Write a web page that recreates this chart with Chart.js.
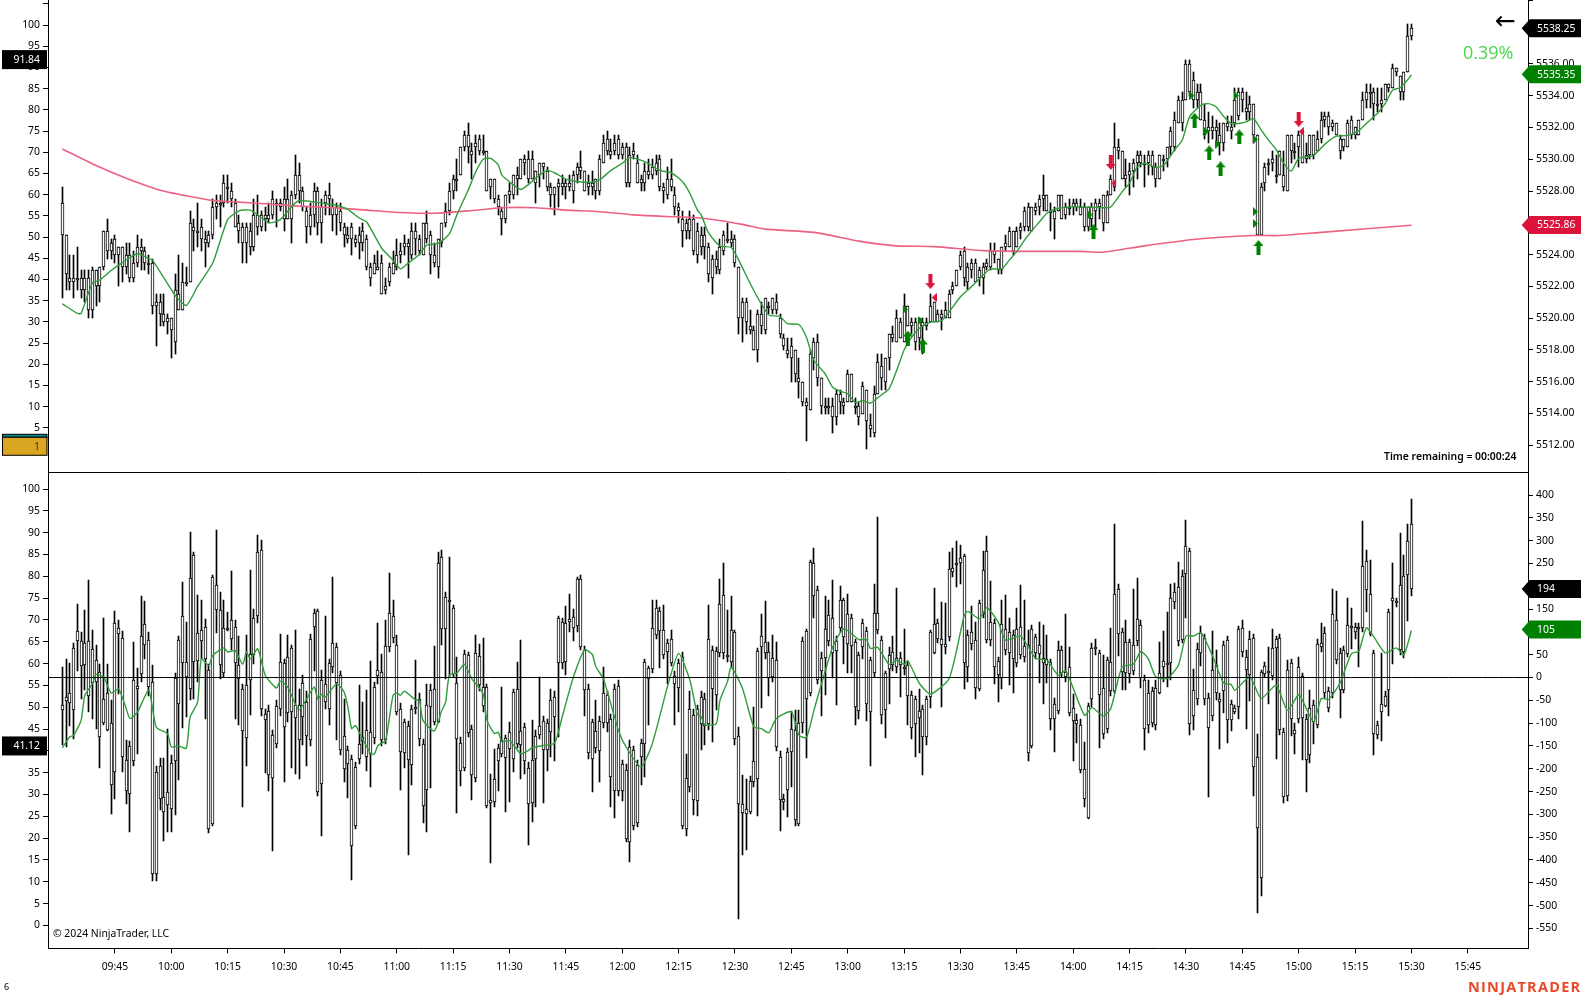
<!DOCTYPE html>
<html>
<head>
<meta charset="utf-8">
<title>NinjaTrader chart</title>
<script src="https://cdn.jsdelivr.net/npm/chart.js@4"></script>
<style>
  html, body { margin: 0; padding: 0; background: #fff; overflow: hidden; }
  #wrap { position: relative; width: 1581px; height: 997px; }
  canvas { position: absolute; left: 0; }
  .label { position: absolute; white-space: nowrap; color: #000; font-family: "Noto Sans", sans-serif; font-size: 10.4px; line-height: 14px; }
</style>
</head>
<body>
<div id="wrap">
  <canvas id="priceChart" width="1581" height="473" style="top:0"></canvas>
  <canvas id="deltaChart" width="1581" height="525" style="top:472px"></canvas>
  <div class="label" style="left:1495px;top:4px;font-family:'DejaVu Sans';font-size:25px;line-height:34px">←</div>
  <div class="label" style="left:1463px;top:40px;font-family:'Open Sans';font-size:18px;line-height:24px;color:#4cd44c">0.39%</div>
  <div class="label" style="left:1384px;top:449px;font-weight:600">Time remaining = 00:00:24</div>
  <div class="label" style="left:53px;top:926px">© 2024 NinjaTrader, LLC</div>
  <div class="label" style="left:4px;top:980px;font-size:9px">6</div>
  <div class="label" style="left:1468px;top:977px;font-family:'Open Sans';font-weight:700;font-size:14.5px;line-height:20px;letter-spacing:1.25px;color:#ea4a2a">NINJATRADER</div>
</div>
<script>
// candles are [open, high, low, close], one row per minute
const priceBars0930 = [
[5527.25,5528.25,5521.25,5525.25],[5525.25,5525.25,5521.75,5522.75],[5522.5,5524,5521.75,5522.25],[5522.25,5524,5521.25,5522.5],[5522.5,5524.5,5521.75,5522.5],
[5522.5,5523,5521.25,5521.75],[5521.75,5523,5521,5522.5],[5522.5,5523,5520,5520.5],[5520.5,5523.25,5520,5523],[5523,5523,5520.75,5522],
[5522,5523.25,5521,5523.25],[5523.25,5525.5,5523,5525.5],[5525.5,5526.25,5523.75,5524.25],[5524.25,5525,5523.75,5524.75],[5525,5525.25,5523.5,5524],
[5524,5524.5,5522,5524.5],[5524.5,5524.5,5522.25,5523.25],[5523.25,5524.75,5522.75,5524],[5524,5524.75,5522.25,5522.5],[5522.5,5524.25,5522.25,5523.5],
[5523.5,5525.25,5523.25,5524.5],[5524.5,5525,5523,5524.25],[5524.25,5524.5,5523,5523.5],[5523.5,5524,5522.75,5523.5],[5523.5,5523.75,5520.25,5520.75],
[5520.75,5521.5,5518.25,5521],[5521,5521.5,5519.5,5520.25],[5520.25,5521.5,5519.5,5519.75],[5519.75,5520.25,5519,5520]];
const priceBars1000 = [
[5520,5520,5517.5,5519.25],[5518.5,5522.75,5517.75,5521.75],[5521.5,5524,5520.5,5520.5],[5520.5,5523.5,5520.5,5522.25],[5522.25,5523.25,5522,5522.25],
[5522.25,5526.75,5522.25,5526],[5525.75,5526.25,5524.25,5525.5],[5525.5,5527.25,5524.5,5525.5],[5525.75,5526.25,5524.25,5525],[5525,5525.5,5523.25,5524.75],
[5524.75,5525.5,5524.5,5525.25],[5525.25,5527.5,5525,5527],[5527,5527.75,5526.25,5527.25],[5527.25,5527.75,5525.75,5527.25],[5527.25,5529,5527,5528.5],
[5528.25,5529,5527.25,5528.25],[5528,5528.5,5527,5527.5],[5527.25,5527.5,5525.75,5525.75],[5526,5526.5,5524.75,5525.5],[5525.75,5526,5523.5,5524.75],
[5524.75,5526,5523.5,5525.75],[5525.5,5526,5524,5524.5],[5524.5,5527.5,5524.25,5526.5],[5526.5,5527.75,5525.25,5525.75],[5525.75,5526.75,5525.5,5526.5],
[5526.5,5527,5525.5,5526.25],[5526.25,5527.25,5526,5526.5],[5526.5,5528,5526.25,5527.5],[5527.25,5527.5,5525.75,5527.25],[5527.25,5527.5,5526.75,5527]];
const priceBars1030 = [
[5526.25,5528.25,5525.5,5527.5],[5527.5,5528.75,5526.25,5526.25],[5526.25,5528,5524.75,5527.75],[5527.75,5530.25,5527.5,5529],[5529,5529.75,5527.25,5528],
[5528,5528.25,5526.75,5527],[5526.75,5527,5524.75,5525.75],[5525.75,5527.25,5525.25,5526.5],[5526.5,5528.5,5525.75,5528],[5528,5528.25,5525.25,5526],
[5526,5527.5,5524.75,5527],[5527.25,5528,5526.5,5527.75],[5527.75,5528.5,5526.5,5527.5],[5527,5527.5,5525.5,5526.5],[5526.5,5527.25,5525.25,5527],
[5526.75,5527.25,5525.5,5526],[5525.75,5526,5524.5,5525.25],[5525.25,5525.75,5524.75,5525],[5525.75,5526,5524,5525],[5525,5525.25,5524.5,5524.75],
[5524.75,5525.75,5523.75,5525.25],[5525.5,5526,5524.25,5524.75],[5525,5525.25,5523,5523.25],[5523.25,5523.5,5522,5522.5],[5522.75,5524,5522.75,5523.5],
[5523.25,5524.25,5523,5523],[5523.5,5524,5521.5,5521.5],[5521.75,5522.5,5521.5,5522],[5522.25,5523.5,5522,5523.25],[5523.5,5524.25,5522.75,5522.75]];
const priceBars1100 = [
[5523.25,5525,5523,5524],[5524,5524.75,5523.5,5524.25],[5524.75,5525.25,5524,5524.5],[5524.5,5525,5522.5,5524.75],[5524,5526,5523.75,5525.5],
[5525.5,5526,5524,5525],[5525,5525.25,5524,5524.25],[5524,5526,5524,5526],[5526,5526.75,5524.75,5525],[5525.25,5525.5,5522.75,5524],
[5524,5524.75,5523.25,5523.5],[5523.25,5525,5522.5,5525],[5524.75,5526,5524.5,5526],[5526,5527.25,5525.75,5526.75],[5526.75,5528.5,5526.5,5528],
[5528,5529,5527.5,5528.75],[5528.75,5530,5528,5528.75],[5529,5530.75,5529,5530.75],[5530.75,5531.75,5530.5,5531.5],[5531.5,5532.25,5529.75,5530.75],
[5530.5,5531,5528.75,5530.25],[5530.75,5531.5,5529.75,5531],[5530.5,5531.5,5530.25,5531.25],[5530.5,5531.5,5530.25,5530.5],[5530.5,5530.5,5528,5528],
[5528.25,5528.75,5527.5,5528.75],[5528.75,5528.75,5527.25,5527.5],[5527.5,5527.75,5526.5,5527],[5526.75,5527,5525.25,5526.25],[5526.25,5527.75,5526,5527.75]];
const priceBars1130 = [
[5527.75,5528.5,5527.25,5528],[5527.75,5529,5527.5,5529],[5529,5529.5,5527.75,5528.75],[5528.75,5530,5528.75,5530],[5530,5530.25,5529,5529.75],
[5528.75,5530.5,5528.5,5530],[5530,5530.5,5528.75,5528.75],[5528.5,5529.25,5527.25,5529.25],[5529,5529.75,5528.25,5529.75],[5529.75,5529.75,5528.75,5529.5],
[5529.25,5529.5,5528,5528.25],[5528.25,5528.5,5527,5527.75],[5527.75,5528.25,5526.5,5528.25],[5528.25,5528.75,5527,5528.5],[5528.5,5529,5527.75,5528.25],
[5528.25,5528.75,5527.5,5528.5],[5528.5,5529,5528,5528.25],[5528,5529.25,5527.25,5529],[5529,5529.75,5528.5,5529.5],[5529.5,5530.5,5528.75,5529.25],
[5529.25,5529.25,5528,5528],[5528.25,5529,5527.75,5528.5],[5528.5,5529.25,5527.75,5528.25],[5528.75,5528.75,5527.5,5528],[5528,5530.25,5527.75,5530],
[5529.75,5531.5,5529.75,5531],[5530.5,5531.75,5530.25,5531.25],[5530.5,5531.25,5530,5530.25],[5530.5,5531.5,5530.25,5531],[5530.25,5531.5,5530,5531.25]];
const priceBars1200 = [
[5530.25,5531,5530,5530.75],[5530.75,5531,5528.25,5528.5],[5528.5,5530.75,5528.25,5530.25],[5530.5,5531,5530,5530.25],[5529.75,5530.25,5528.5,5528.5],
[5528.5,5529,5528,5528.75],[5528.5,5529.75,5528,5529.25],[5529.25,5530,5528.75,5529],[5529,5530,5528.75,5529.5],[5529.75,5530.25,5529,5529.25],
[5528.25,5530.25,5528,5530],[5528.25,5528.5,5527.25,5528],[5528.75,5529.5,5527.5,5527.75],[5528.75,5530,5528,5528.25],[5527.75,5528.25,5526.5,5527],
[5527,5527.25,5526,5526.75],[5526.25,5526.75,5524.5,5525.5],[5526,5526.25,5525,5525.5],[5526.25,5526.75,5525,5525.5],[5526.25,5526.5,5524,5524.25],
[5525.5,5526,5523.5,5524],[5525.25,5525.75,5524,5524.5],[5524.5,5525.75,5523.75,5525.25],[5524.5,5524.75,5522.25,5522.75],[5522.5,5524,5521.5,5523.75],
[5523.75,5524.25,5522.75,5523.25],[5523,5525,5522.75,5524.5],[5524.25,5525.5,5524,5525.25],[5525,5526,5524.75,5525],[5525,5525.5,5524.5,5524.75]];
const priceBars1230 = [
[5525,5525.25,5523.25,5523.5],[5523.25,5523.25,5519,5520],[5520,5521.25,5518.5,5521],[5521,5521.25,5519,5519.75],[5519.5,5520.5,5519,5519.25],
[5519.25,5519.5,5518,5518],[5518,5520.5,5517.25,5520.25],[5520.25,5521,5519,5519.5],[5519.25,5521.25,5519,5521.25],[5520.75,5521,5520.25,5520.75],
[5521.25,5521.25,5520.25,5520.5],[5520.5,5521.5,5520.25,5521],[5520,5520.25,5518.75,5519],[5518.75,5519,5518,5518.25],[5518,5518.75,5517.5,5517.75],
[5517.5,5518.75,5516,5518.25],[5518,5518,5516,5516.5],[5516.25,5517.5,5515,5516],[5516,5516,5514.5,5514.75],[5514.75,5515,5512.25,5514.5],
[5514.25,5518,5514.25,5517.75],[5517.5,5518.75,5516.75,5518.5],[5518.5,5519,5515.75,5516.25],[5516.25,5516.25,5514,5514.5],[5514.5,5515,5514,5514.5],
[5514.5,5515,5514,5514.5],[5514.5,5515,5512.75,5513.75],[5513.75,5515.5,5513.25,5515.25],[5515.25,5515.5,5514,5514.75],[5514.75,5515,5514,5514.5]];
const priceBars1300 = [
[5514.75,5516.75,5514.75,5516.5],[5516.5,5516.5,5514.75,5514.75],[5514.5,5515,5514,5514.5],[5514.5,5514.75,5513.25,5513.75],[5514,5516,5514,5515.75],
[5515.5,5515.5,5511.75,5513.5],[5513.25,5514,5512.5,5513],[5512.75,5515.75,5512.5,5515.25],[5515.25,5517.75,5515.25,5517.25],[5517,5517.75,5515.5,5516.25],
[5516,5517.5,5515.5,5517.5],[5517.5,5519,5516.75,5519],[5519,5519.5,5518.5,5518.75],[5518.5,5520.5,5518.5,5520],[5519.75,5520,5518.75,5518.75],
[5518.5,5521.5,5518.5,5520.75],[5520.75,5520.75,5519.5,5519.5],[5519.5,5520,5519,5519.75],[5519.75,5520,5518,5518.5],[5518.75,5520,5518,5520],
[5519.75,5520,5517.75,5519.5],[5519.5,5520,5519.25,5519.75],[5519.75,5521.5,5519.75,5520.75],[5521,5521,5519.75,5519.75],[5519.75,5520.5,5519.75,5520.25],
[5520.25,5520.5,5519.25,5520],[5520,5521,5520,5520.5],[5520,5521.75,5520,5521.5],[5521.75,5522.25,5521.5,5522],[5522,5523,5522,5523]];
const priceBars1330 = [
[5523.25,5524.25,5523,5524],[5522.5,5524.5,5522,5524.25],[5522.25,5523.5,5521.75,5523.25],[5523,5523.75,5522.5,5523.5],[5523.5,5523.75,5522.25,5522.25],
[5522.5,5523.25,5522,5523],[5522.5,5523.5,5521.5,5523.25],[5523.25,5523.75,5523,5523.5],[5523.25,5524.75,5523,5524.25],[5524.25,5524.75,5523.5,5524],
[5523,5523.75,5522.75,5523.75],[5523,5524.5,5522.75,5524.5],[5524.5,5525.25,5524.25,5524.75],[5524.5,5525.75,5524.5,5525.5],[5525.5,5525.5,5524,5524.25],
[5524.5,5525.75,5524.5,5525.5],[5525.5,5526,5525,5525.75],[5525.75,5527,5525.5,5526.75],[5525.75,5527.25,5525.5,5527],[5527,5527,5525.5,5525.5],
[5526.75,5527.25,5526.5,5527],[5527,5527.75,5526.5,5527.5],[5527.5,5529,5526.75,5527.75],[5527.75,5527.75,5526.75,5526.75],[5526.75,5527.25,5525.5,5526.75],
[5526.25,5527,5525,5526.75],[5526.75,5527.75,5526.75,5527.75],[5526.25,5527.75,5526.25,5527.75],[5527,5527.25,5526.25,5526.5],[5527,5527.5,5526.5,5527]];
const priceBars1400 = [
[5527,5527.5,5526.5,5527.25],[5527,5527.5,5526.75,5527.25],[5527,5527.5,5526.5,5526.5],[5527,5527.25,5525.5,5525.75],[5525.75,5527,5525.5,5527],
[5527,5527.25,5525.75,5526.25],[5526.75,5527.5,5525.75,5527.25],[5527,5527.5,5526.25,5527.25],[5526,5527.75,5525.5,5527.75],[5527.75,5528,5526,5526],
[5527.75,5529,5527.75,5528.75],[5528.25,5532.25,5528,5530.75],[5530.5,5531.25,5530,5530.75],[5530.5,5530.5,5528.75,5528.75],[5529,5530,5528.25,5528.75],
[5529,5529.75,5527.75,5529.25],[5529.25,5530,5528.25,5529.75],[5529.75,5530.5,5528.75,5530.25],[5530.25,5530.5,5529.5,5529.75],[5529.75,5530.25,5528.25,5529.75],
[5529.75,5530.5,5529,5530.25],[5530.25,5530.5,5529,5529.5],[5529.5,5529.75,5528.25,5528.75],[5528.75,5530.25,5528.75,5530.25],[5530,5530.25,5529.25,5530],
[5530,5530.75,5529.5,5530.75],[5530.75,5532,5530.25,5531.75],[5530.75,5533,5530.5,5532.5],[5532.25,5534,5532.25,5533.75],[5533.75,5534.25,5531.75,5532.25]];
const priceBars1430 = [
[5533.75,5536.25,5533.75,5536],[5536,5536.25,5534,5534.25],[5535,5535.5,5533.25,5533.75],[5533.75,5534.75,5533.25,5534.25],[5534.25,5534.75,5532.5,5532.5],
[5532.5,5533.5,5531.25,5531.5],[5531.75,5533,5531,5532],[5532,5532.75,5531.25,5531.75],[5531.75,5532.5,5531,5532],[5531.5,5532.25,5530.25,5531],
[5531,5532.25,5530.5,5532.25],[5532.25,5532.75,5531.75,5532],[5532,5532.75,5531.25,5531.75],[5532.25,5534.5,5532,5533.75],[5532.75,5534.5,5532.5,5534.25],
[5534.25,5534.5,5533,5533.75],[5533.25,5534.25,5532.5,5533],[5533,5534,5532.5,5533.5],[5533.5,5533.5,5531,5531.5],[5531.5,5531.5,5525.25,5525.25],
[5525.25,5528.5,5525.25,5528.25],[5528.5,5529.75,5528,5529.5],[5529.75,5530,5529,5529.75],[5529.75,5530.5,5529.25,5530],[5529,5530.25,5528.5,5529],
[5529,5530.5,5529,5530.5],[5529,5530.5,5528,5528.25],[5528,5531.5,5528,5531.5],[5531.5,5531.5,5529.75,5530.5],[5530.5,5531,5530,5530.5]];
const priceBars1500 = [
[5530.75,5531.75,5529.5,5531.5],[5531.75,5531.75,5529.75,5529.75],[5530,5531,5529.75,5530.25],[5530.25,5531.5,5530,5531.5],[5531.5,5531.5,5530,5530.25],
[5531.25,5531.75,5530.5,5530.5],[5531.25,5533,5531,5532.5],[5532.5,5533,5532,5532.75],[5532.75,5533,5531.5,5532],[5532,5532.5,5531.75,5532.25],
[5532.25,5532.25,5531.5,5531.5],[5531.25,5531.5,5530,5530.5],[5530.75,5531.25,5530.5,5531.25],[5530.75,5532.5,5530.75,5532.25],[5532.5,5532.75,5531.25,5531.5],
[5531.5,5532,5531.25,5532],[5531.5,5532.5,5531.5,5532.5],[5532.5,5534.25,5532.5,5533.75],[5533.75,5534.75,5533.25,5534.25],[5534.25,5534.75,5533.25,5534.25],
[5534.25,5534.5,5532.5,5533.5],[5533.5,5534.5,5533,5533.5],[5533.75,5534.5,5533,5533.5],[5533.75,5534.75,5533.75,5534.75],[5534.75,5534.75,5534.25,5534.5],
[5534.5,5536,5534.5,5535.75],[5535.75,5535.75,5535.25,5535.5],[5535.25,5535.25,5533.75,5534.25],[5534.25,5535.5,5533.75,5535.5],[5535.5,5538.5,5535.5,5537.75],
[5537.75,5538.5,5537.5,5538.25]];

const deltaBars0930 = [
[-72,24,-147,-60],[-52,41,-152,-43],[-56,32,-107,-33],[-71,75,-134,65],[80,161,14,102],[26,100,-48,80],[28,147,-28,76],[-40,213,-76,80],[-11,105,-92,63],[-9,72,-112,39],
[-130,30,-198,13],[-99,131,-105,-47],[-114,30,-117,-33],[-236,-50,-300,-99],[-207,145,-266,120],[96,125,-36,109],[-174,103,-207,87],[-249,-136,-278,-180],[-255,-139,-339,-150],[-183,78,-195,-5],
[-25,20,-168,-18],[8,178,-10,91],[72,167,40,118],[-21,100,-40,83],[-430,28,-445,-10],[-430,-195,-445,-207],[-266,-176,-290,-194],[-295,-176,-358,-263],[-279,-112,-339,-251]];
const deltaBars1000 = [
[-288,-170,-339,-187],[-183,10,-302,-1],[-58,92,-224,83],[32,210,-110,134],[1,121,-87,34],[-25,320,-50,218],[35,275,-48,269],[36,180,-10,98],[80,170,40,105],[41,129,-90,110],
[-333,30,-340,16],[-322,225,-325,221],[148,324,98,203],[28,187,-3,148],[10,169,0,109],[107,143,103,109],[85,234,60,126],[32,125,-92,110],[-3,90,-103,28],[-117,-15,-284,-25],
[-132,94,-193,-16],[-6,236,-83,52],[50,151,30,131],[134,313,120,276],[-68,302,-85,280],[-93,-70,-209,-79],[-213,-60,-249,-74],[-220,-115,-380,-127],[-145,-50,-155,-62],[-68,96,-85,34]];
const deltaBars1030 = [
[-109,40,-229,32],[-78,94,-98,46],[-76,72,-198,65],[-88,105,-212,-61],[-136,-25,-222,-61],[-87,5,-149,-12],[-128,-30,-193,-54],[-136,95,-150,85],[110,150,14,142],[-252,150,-260,145],
[-233,16,-347,-5],[-54,134,-70,-14],[-68,40,-103,32],[23,221,10,76],[-12,75,-136,66],[-158,15,-170,6],[-200,-47,-229,-128],[-189,-150,-264,-158],[-369,-170,-444,-178],[-325,-185,-333,-196],
[-178,-17,-190,-145],[-139,-53,-167,-130],[-174,-28,-205,-115],[-167,37,-240,-119],[-132,-10,-145,-20],[4,119,-15,17],[-136,52,-150,13],[-138,125,-145,70],[67,229,55,142],[87,170,75,134]];
const deltaBars1100 = [
[-76,94,-83,72],[-163,-55,-247,-68],[-165,-92,-198,-97],[-180,-95,-390,-106],[-191,-60,-236,-70],[-69,39,-79,-65],[-134,-35,-150,-47],[-282,-135,-319,-145],[-247,-14,-339,-60],[-65,-15,-242,-27],
[-97,70,-105,-26],[-97,276,-100,251],[107,280,72,264],[107,187,-3,176],[168,265,1,171],[8,160,0,152],[-134,46,-297,-11],[-206,-130,-238,-143],[-198,60,-205,52],[-122,56,-130,50],
[-214,-105,-269,-113],[-220,94,-229,54],[-16,74,-30,48],[-63,87,-75,-21],[-281,-14,-285,-21],[-275,-211,-406,-268],[-273,-156,-284,-222],[-183,-145,-249,-154],[-167,-20,-175,-138],[-176,-125,-295,-132]];
const deltaBars1130 = [
[-156,-98,-273,-120],[-178,-25,-207,-32],[-145,34,-155,-25],[-147,83,-222,-117],[-182,-100,-211,-109],[-278,-185,-368,-198],[-274,-94,-317,-180],[-178,-115,-284,-128],[-127,2,-135,-107],[-158,-85,-275,-96],
[-158,-90,-204,-99],[-119,-25,-174,-49],[-87,-30,-183,-43],[32,135,-130,130],[32,130,19,121],[34,156,5,120],[121,182,100,128],[109,150,80,132],[113,220,100,215],[67,224,60,216],
[-27,70,-85,61],[-165,-15,-179,-25],[-178,-90,-251,-97],[-154,-49,-165,-117],[-160,-85,-229,-95],[-99,23,-110,-33],[-100,-30,-120,-38],[-218,-80,-284,-90],[-249,-15,-309,-25],[-249,-6,-260,-18]];
const deltaBars1200 = [
[-249,-180,-271,-189],[-355,-190,-360,-202],[-360,-138,-404,-152],[-325,-150,-335,-158],[-318,-180,-328,-191],[-174,-135,-236,-143],[-145,40,-218,34],[-3,26,-103,21],[19,169,10,109],[94,169,85,153],
[102,155,20,146],[50,160,40,105],[56,85,-15,76],[32,105,25,85],[-14,15,-105,4],[-22,40,-76,32],[-325,57,-331,46],[-331,-167,-347,-220],[-240,-30,-250,-68],[-268,-70,-302,-82],
[-271,-60,-304,-68],[-101,-30,-158,-42],[-107,-35,-147,-48],[-101,158,-115,85],[-26,70,-141,61],[-39,67,-72,58],[54,217,45,162],[54,252,40,180],[45,147,35,50],[34,178,20,105]];
const deltaBars1230 = [
[-134,105,-147,99],[-277,-108,-530,-128],[-296,-214,-388,-278],[-300,-223,-377,-289],[-294,-215,-300,-226],[-228,-64,-240,-184],[-223,64,-303,58],[66,140,-66,91],[53,168,40,77],[-2,78,-40,57],
[2,93,-10,42],[-153,78,-160,39],[-269,-161,-336,-175],[-272,-255,-290,-267],[-247,-155,-305,-164],[-164,-73,-241,-112],[-312,-72,-326,-115],[-321,-72,-325,-99],[-99,89,-121,80],[-46,107,-177,101],
[-35,258,-40,253],[179,284,131,252],[-6,200,-15,191],[15,55,-84,43],[43,178,-39,107],[80,169,70,136],[53,213,-2,131],[58,90,-61,80],[109,200,100,171],[89,175,29,169]];
const deltaBars1300 = [
[74,184,9,140],[69,140,9,131],[-64,85,-104,77],[-73,55,-91,49],[67,128,40,120],[-59,110,-95,102],[-75,45,-194,39],[9,204,0,142],[105,352,95,142],[-82,90,-102,83],
[-72,15,-133,9],[18,67,-57,50],[27,91,15,55],[23,197,10,42],[27,55,-42,42],[18,107,5,22],[-41,35,-104,27],[-110,-30,-134,-39],[-101,-40,-174,-46],[-88,-26,-165,-74],
[-130,-60,-214,-70],[-130,-40,-148,-46],[-42,105,-66,100],[54,197,51,117],[85,128,75,120],[72,166,-64,85],[67,164,51,74],[88,275,80,237],[231,284,220,241],[247,299,199,251]];
const deltaBars1330 = [
[250,290,206,263],[31,270,-26,266],[22,105,-9,94],[74,156,60,100],[-24,122,-47,83],[-26,170,-30,164],[140,277,130,235],[83,310,75,277],[82,211,70,122],[22,128,-15,120],
[5,45,-53,36],[-2,171,-26,118],[60,180,50,107],[53,131,-17,99],[40,105,-34,94],[31,153,22,107],[50,202,40,110],[45,169,35,69],[-166,104,-182,71],[-150,115,-155,107],
[53,95,40,88],[51,122,-13,71],[32,115,-57,42],[27,93,-12,41],[-92,40,-115,34],[-92,-45,-163,-57],[-73,80,-80,60],[9,70,0,61],[1,140,-9,12],[-77,67,-85,22]];
const deltaBars1400 = [
[-96,-37,-183,-66],[-101,-80,-143,-94],[-202,-90,-210,-103],[-267,-141,-283,-200],[-307,-55,-310,-62],[-46,75,-65,65],[65,85,50,67],[-38,60,-154,54],[-123,49,-134,-24],[-113,45,-121,39],
[-30,109,-40,33],[-29,337,-35,184],[96,205,47,195],[12,109,-28,100],[10,127,-27,78],[8,85,-13,78],[14,193,5,72],[80,219,70,129],[-2,125,-23,116],[-112,5,-158,-5],
[-105,-5,-121,-35],[-100,-20,-108,-29],[-105,-5,-115,-22],[-34,78,-37,10],[22,101,-10,36],[30,144,-21,32],[32,204,-6,175],[165,208,150,187],[79,253,70,198],[82,235,75,223]];
const deltaBars1430 = [
[228,346,130,288],[-101,285,-127,278],[-84,18,-116,-27],[-46,75,-60,63],[54,112,25,98],[-46,95,-60,87],[-110,-35,-262,-44],[-84,101,-95,17],[-35,60,-50,27],[-54,-35,-156,-46],
[-29,80,-78,72],[-93,90,-143,82],[-93,-50,-118,-59],[-75,-60,-80,-66],[-65,114,-92,107],[56,127,45,109],[16,60,-113,44],[5,101,-51,85],[-197,95,-259,87],[-329,-123,-517,-175],
[-440,16,-478,12],[8,35,0,26],[10,67,-57,14],[3,107,-5,65],[65,90,-178,84],[-116,95,-125,87],[-263,-110,-275,-119],[-259,39,-270,17],[-90,40,-128,32],[-123,-100,-167,-114]];
const deltaBars1500 = [
[-90,45,-100,24],[-88,10,-181,4],[-180,-80,-252,-90],[-169,-28,-187,-66],[-97,-50,-145,-61],[-103,85,-110,74],[67,119,55,76],[-34,110,-45,98],[-66,-20,-75,-29],[-35,195,-45,140],
[38,189,30,125],[-28,65,-89,54],[-27,70,-35,61],[52,175,45,116],[112,152,63,113],[100,120,85,111],[107,120,23,111],[109,344,100,245],[191,279,144,255],[96,258,90,184],
[-123,60,-170,54],[-127,-95,-135,-103],[-75,54,-139,-59],[-62,-30,-65,-40],[-28,150,-85,144],[167,252,30,174],[165,175,155,168],[60,317,50,203],[56,268,43,223],[225,337,124,299],
[195,392,179,337]];

// green and red averages, sparse points
const priceMaIndex = [0,4,5,8,10,13,16,20,23,24,30,33,36,40,44,47,50,52,55,58,61,63,70,73,76,79,81,85,88,90,92,95,97,100,103,105,108,110,112,114,116,117,120,122,124,127,129,131,134,137,141,143,146,149,151,155,159,162,165,167,169,170,172,175,178,180,183,186,188,191,193,196,198,200,203,205,207,209,211,213,215,217,220,222,224,226,228,231,234,236,239,242,245,247,250,252,254,256,258,260,262,265,268,272,277,279,282,284,286,288,291,293,296,298,300,303,305,307,309,311,313,315,317,319,321,323,325,327,329,333,336,339,342,345,347,350,352,354,356,358,359];
const priceMaValues = [5520.9,5520.3,5520.3,5522.2,5522.4,5523,5523.5,5524.05,5523.75,5523.65,5521.45,5520.8,5522,5523.45,5526.2,5526.75,5526.8,5526.5,5526,5526.2,5527,5527.4,5527.2,5527.1,5526.85,5526.3,5526.05,5524.4,5523.65,5523.1,5523.45,5524,5524.6,5524.7,5525.3,5526.5,5528.05,5529.2,5530,5530.05,5529.65,5529,5528.4,5528.1,5528.4,5529,5529.3,5529.15,5528.75,5528.6,5528.55,5528.7,5529.3,5529.75,5530.1,5529.85,5529.3,5529.15,5528.6,5527.85,5526.8,5526.5,5525.35,5524.55,5524.45,5523.65,5522.2,5520.9,5520.2,5520.1,5519.65,5519.6,5518.8,5517.35,5516.5,5515.65,5515.4,5515.25,5514.7,5514.8,5514.65,5515,5515.55,5516.7,5518,5518.8,5519.35,5519.75,5519.85,5520.4,5521.35,5522,5522.7,5523.1,5523.1,5523.65,5524.2,5524.9,5525.5,5526.05,5526.6,5526.9,5527,5527,5526.95,5527,5527.95,5528.5,5529.5,5529.75,5529.5,5529.6,5530.6,5531.2,5532.7,5533.4,5533.5,5533.3,5532.7,5532.25,5532.25,5532.35,5532.55,5531.85,5531.2,5530.6,5529.75,5529.25,5530.05,5530.25,5530.95,5531.45,5531.5,5531.8,5532.25,5532.9,5533.5,5534.35,5534.5,5535,5535.3];
const longMaIndex = [0,9,17,26,33,40,47,54,63,72,81,90,99,108,117,126,134,143,152,161,170,181,187,200,212,222,232,245,258,271,277,288,301,317,324,335,359];
const longMaValues = [5530.65,5529.6,5528.8,5528.05,5527.7,5527.4,5527.3,5527.2,5527.05,5526.95,5526.8,5526.65,5526.6,5526.75,5526.95,5526.95,5526.8,5526.7,5526.5,5526.4,5526.3,5525.9,5525.6,5525.4,5524.85,5524.55,5524.5,5524.25,5524.2,5524.2,5524.15,5524.55,5524.95,5525.2,5525.2,5525.4,5525.85];
const deltaMaIndex = [0,2,3,5,6,8,9,11,13,15,17,18,20,23,25,28,29,31,33,34,36,37,39,40,43,44,46,48,49,50,52,54,57,58,60,63,67,68,69,70,73,75,76,77,78,79,82,83,84,86,88,89,90,91,94,95,96,99,101,102,103,105,107,109,112,113,115,116,117,119,122,124,125,128,131,133,136,139,141,142,144,148,150,154,157,161,164,167,169,170,171,174,175,177,178,181,184,186,188,190,194,196,198,200,205,208,212,214,215,217,220,222,224,225,228,231,236,240,241,244,246,249,251,255,259,262,265,267,272,274,277,279,282,285,287,289,291,294,297,299,301,303,306,309,311,312,316,319,323,326,329,330,333,335,337,340,343,345,347,349,352,355,357,359];
const deltaMaValues = [-154,-130,-127,-94,-39,-14,7,1,-34,-25,-68,-90,-76,-28,-109,-123,-152,-150,-155,-87,-54,41,26,48,65,56,59,29,56,41,63,5,-23,-8,-21,-71,-21,-47,-37,-43,-14,-32,-65,-112,-105,-120,-166,-168,-149,-138,-39,-34,-39,-30,-49,-50,-94,-117,-72,-54,5,10,29,-3,-36,-94,-123,-120,-141,-138,-167,-160,-154,-149,-144,-87,1,61,51,23,-3,-116,-152,-196,-145,-21,53,-6,-81,-86,-104,-101,-50,-9,23,-24,-108,-112,-121,-90,-75,-126,-132,-72,67,107,83,83,64,66,29,38,29,37,-12,-36,-2,136,145,129,153,122,82,91,42,38,5,15,-83,-66,-84,-68,23,29,57,41,1,-2,27,91,91,98,49,-12,-15,-28,1,-46,-17,-72,-37,-50,-97,-46,-48,-12,52,58,109,89,54,65,50,103];

// signal markers on the price panel
const upArrowIndex = [225,229,274.4,301.3,305.2,308.2,313.2,318.3];
const upArrowPrice = [5518.75,5518.25,5525.45,5532.45,5530.4,5529.4,5531.4,5524.45];
const downArrowIndex = [231,279,329];
const downArrowPrice = [5522.3,5529.8,5532.5];
const entryLongIndex = [224.3,228.3,273.5,300.6,304.5,307.5,312.4,317.5,317.5,317.5];
const entryLongPrice = [5520.55,5519.85,5526.5,5534,5531.75,5530.95,5534,5531.25,5526.7,5525.95];
const entryShortIndex = [232,279.8,329.7];
const entryShortPrice = [5521.3,5528.5,5531.75];

// axis ticks
const stochTicks = [5,10,15,20,25,30,35,40,45,50,55,60,65,70,75,80,85,90,95,100,105];
const priceTicks = [5512,5514,5516,5518,5520,5522,5524,5526,5528,5530,5532,5534,5536,5538,5540];
const lowerStochTicks = [0,5,10,15,20,25,30,35,40,45,50,55,60,65,70,75,80,85,90,95,100];
const deltaTicks = [-550,-500,-450,-400,-350,-300,-250,-200,-150,-100,-50,0,50,100,150,200,250,300,350,400];
const timeTickIndex = [14,29,44,59,74,89,104,119,134,149,164,179,194,209,224,239,254,269,284,299,314,329,344,359,374];
const timeTickLabels = ['09:45','10:00','10:15','10:30','10:45','11:00','11:15','11:30','11:45','12:00','12:15','12:30','12:45','13:00','13:15','13:30','13:45','14:00','14:15','14:30','14:45','15:00','15:15','15:30','15:45'];

// value tags on the axes
const priceTagValues = [5538.25,5535.35,5525.86];
const priceTagColors = ['#000000','#008000','#dc143c'];
const deltaTagValues = [194,105];
const deltaTagColors = ['#000000','#008000'];
const stochTagValue = 91.84;
const lowerStochTagValue = 41.12;
const positionTagValue = 1;

const TEXT_FONT = { family: '"Noto Sans", sans-serif', size: 10.4 };
const xRange = { min: -3.805, max: 390.02 };

const priceBars = [].concat(priceBars0930, priceBars1000, priceBars1030, priceBars1100, priceBars1130, priceBars1200, priceBars1230, priceBars1300, priceBars1330, priceBars1400, priceBars1430, priceBars1500);
const deltaBars = [].concat(deltaBars0930, deltaBars1000, deltaBars1030, deltaBars1100, deltaBars1130, deltaBars1200, deltaBars1230, deltaBars1300, deltaBars1330, deltaBars1400, deltaBars1430, deltaBars1500);

function zip(xs, ys) {
  return xs.map((x, i) => ({ x, y: ys[i] }));
}

function candleDatasets(bars, yAxisID) {
  const base = { type: 'bar', yAxisID, grouped: false, barPercentage: 1, categoryPercentage: 1, borderSkipped: false };
  return [
    { ...base, label: 'body', order: 3, maxBarThickness: 3, backgroundColor: '#fff', borderColor: '#000', borderWidth: 1,
      data: bars.map((b, i) => ({ x: i, y: [Math.min(b[0], b[3]), Math.max(b[0], b[3])] })) },
    { ...base, label: 'wick', order: 4, maxBarThickness: 1, backgroundColor: '#000', borderWidth: 0,
      data: bars.map((b, i) => ({ x: i, y: [b[2], b[1]] })) }
  ];
}

function lineDataset(label, data, color, yAxisID, order, width) {
  return { type: 'line', label, data, yAxisID, order, borderColor: color, borderWidth: width, pointRadius: 0, tension: 0.2, fill: false };
}

function makeArrow(color, up) {
  const c = document.createElement('canvas');
  c.width = 10; c.height = 15;
  const g = c.getContext('2d');
  g.fillStyle = color;
  g.beginPath();
  if (up) {
    g.moveTo(5, 0); g.lineTo(10, 6); g.lineTo(7, 6); g.lineTo(7, 15); g.lineTo(3, 15); g.lineTo(3, 6); g.lineTo(0, 6);
  } else {
    g.moveTo(3, 0); g.lineTo(7, 0); g.lineTo(7, 9); g.lineTo(10, 9); g.lineTo(5, 15); g.lineTo(0, 9); g.lineTo(3, 9);
  }
  g.fill();
  return c;
}

function makeTriangle(color, right) {
  const c = document.createElement('canvas');
  c.width = 5; c.height = 9;
  const g = c.getContext('2d');
  g.fillStyle = color;
  g.beginPath();
  if (right) {
    g.moveTo(0, 0); g.lineTo(5, 4.5); g.lineTo(0, 9);
  } else {
    g.moveTo(5, 0); g.lineTo(0, 4.5); g.lineTo(5, 9);
  }
  g.fill();
  return c;
}

function markerDataset(label, xs, ys, style) {
  return { type: 'line', label, data: zip(xs, ys), yAxisID: 'yRight', order: 0, showLine: false, pointStyle: style, pointRadius: 5, pointHoverRadius: 5 };
}

// the platform draws candles on whole pixels, so snap them to keep them crisp
const snapBars = {
  id: 'snapBars',
  beforeDatasetsDraw(chart) {
    chart.getSortedVisibleDatasetMetas().forEach(meta => {
      if (meta.type !== 'bar') return;
      meta.data.forEach(el => {
        el.x = Math.floor(el.x) + 0.5;
        el.y = Math.round(el.y);
        el.base = Math.round(el.base);
        if (Math.abs(el.base - el.y) < 2) el.base = el.y + 2;
      });
    });
  }
};

function rightTag(ctx, y, color, text) {
  const left = 1521.7, right = 1581, h = 9;
  ctx.fillStyle = color;
  ctx.beginPath();
  ctx.moveTo(left, y);
  ctx.lineTo(left + 8, y - h);
  ctx.lineTo(right, y - h);
  ctx.lineTo(right, y + h);
  ctx.lineTo(left + 8, y + h);
  ctx.closePath();
  ctx.fill();
  ctx.fillStyle = '#fff';
  ctx.textAlign = 'left';
  ctx.textBaseline = 'middle';
  ctx.fillText(text, 1537, y + 0.5);
}

function leftTag(ctx, y, color, text) {
  ctx.fillStyle = color;
  ctx.fillRect(2, y - 9.5, 45, 19);
  ctx.fillStyle = '#fff';
  ctx.textAlign = 'right';
  ctx.textBaseline = 'middle';
  ctx.fillText(text, 40, y + 0.5);
}

const priceTags = {
  id: 'priceTags',
  afterDraw(chart) {
    const { ctx, scales } = chart;
    ctx.save();
    ctx.font = `${TEXT_FONT.size}px ${TEXT_FONT.family}`;
    priceTagValues.forEach((v, i) => rightTag(ctx, scales.yRight.getPixelForValue(v), priceTagColors[i], v.toFixed(2)));
    leftTag(ctx, scales.yLeft.getPixelForValue(stochTagValue), '#000', stochTagValue.toFixed(2));
    const py = scales.yLeft.getPixelForValue(positionTagValue);
    ctx.strokeStyle = '#000';
    ctx.lineWidth = 1;
    ctx.fillStyle = '#008b8b';
    ctx.fillRect(2.5, py - 10.5, 44.5, 3);
    ctx.strokeRect(2.5, py - 10.5, 44.5, 3);
    ctx.fillStyle = '#daa520';
    ctx.fillRect(2.5, py - 7.5, 44.5, 18);
    ctx.strokeRect(2.5, py - 7.5, 44.5, 18);
    ctx.fillStyle = '#333';
    ctx.textAlign = 'right';
    ctx.textBaseline = 'middle';
    ctx.fillText(String(positionTagValue), 40, py + 2);
    ctx.restore();
  }
};

const deltaTags = {
  id: 'deltaTags',
  afterDraw(chart) {
    const { ctx, scales } = chart;
    ctx.save();
    ctx.font = `${TEXT_FONT.size}px ${TEXT_FONT.family}`;
    deltaTagValues.forEach((v, i) => rightTag(ctx, scales.yRight.getPixelForValue(v), deltaTagColors[i], String(v)));
    leftTag(ctx, scales.yLeft.getPixelForValue(lowerStochTagValue), '#000', lowerStochTagValue.toFixed(2));
    ctx.restore();
  }
};

function noAxisPadding(scale) {
  scale.paddingTop = 0;
  scale.paddingBottom = 0;
  scale.paddingLeft = 0;
  scale.paddingRight = 0;
}

function yAxis(position, min, max, tickValues, width, format) {
  return {
    type: 'linear', position, min, max,
    afterBuildTicks: scale => { scale.ticks = tickValues.map(value => ({ value })); },
    afterFit: scale => { scale.width = width; noAxisPadding(scale); },
    border: { display: true, color: '#000', width: 1 },
    grid: { drawOnChartArea: false, drawTicks: true, tickLength: 5, color: '#000', offset: false },
    ticks: { autoSkip: false, padding: 3, color: '#000', font: TEXT_FONT, callback: format }
  };
}

function baseOptions(scales) {
  return {
    responsive: false,
    animation: false,
    devicePixelRatio: 1,
    layout: { autoPadding: false, padding: 0 },
    plugins: { legend: { display: false }, tooltip: { enabled: false } },
    events: [],
    scales
  };
}

new Chart(document.getElementById('priceChart'), {
  type: 'bar',
  data: {
    datasets: [
      markerDataset('up', upArrowIndex, upArrowPrice, makeArrow('#008000', true)),
      markerDataset('down', downArrowIndex, downArrowPrice, makeArrow('#dc143c', false)),
      markerDataset('long', entryLongIndex, entryLongPrice, makeTriangle('#008000', true)),
      markerDataset('short', entryShortIndex, entryShortPrice, makeTriangle('#dc143c', false)),
      lineDataset('ma', zip(priceMaIndex, priceMaValues), '#2f9e3a', 'yRight', 1, 1.4),
      lineDataset('long ma', zip(longMaIndex, longMaValues), '#ec6283', 'yRight', 2, 1.6),
      ...candleDatasets(priceBars, 'yRight')
    ]
  },
  options: baseOptions({
    x: {
      type: 'linear', min: xRange.min, max: xRange.max, offset: false,
      afterFit: scale => { scale.height = 1; noAxisPadding(scale); },
      border: { display: true, color: '#000', width: 1 },
      grid: { display: false, offset: false },
      ticks: { display: false }
    },
    yLeft: yAxis('left', -5.42, 105.9, stochTicks, 48, v => (v > 100 ? '' : v)),
    yRight: yAxis('right', 5510.32, 5540.02, priceTicks, 53, v => (v >= 5540 ? '' : v.toFixed(2)))
  }),
  plugins: [snapBars, priceTags]
});

new Chart(document.getElementById('deltaChart'), {
  type: 'bar',
  data: {
    datasets: [
      lineDataset('zero', [{ x: xRange.min, y: 0 }, { x: xRange.max, y: 0 }], '#000', 'yRight', 0, 1),
      lineDataset('ma', zip(deltaMaIndex, deltaMaValues), '#2f9e3a', 'yRight', 1, 1.4),
      ...candleDatasets(deltaBars, 'yRight')
    ]
  },
  options: baseOptions({
    x: {
      type: 'linear', min: xRange.min, max: xRange.max, offset: false,
      afterBuildTicks: scale => { scale.ticks = timeTickIndex.map(value => ({ value })); },
      afterFit: scale => { scale.height = 48.5; noAxisPadding(scale); },
      border: { display: true, color: '#000', width: 1 },
      grid: { drawOnChartArea: false, drawTicks: true, tickLength: 5, color: '#000', offset: false },
      ticks: { autoSkip: false, maxRotation: 0, padding: 7, color: '#000', font: TEXT_FONT,
        callback: v => timeTickLabels[timeTickIndex.indexOf(v)] }
    },
    yLeft: yAxis('left', -5.3, 103.9, lowerStochTicks, 48, v => v),
    yRight: yAxis('right', -594, 450.5, deltaTicks, 53, v => v)
  }),
  plugins: [snapBars, deltaTags]
});
</script>
</body>
</html>
